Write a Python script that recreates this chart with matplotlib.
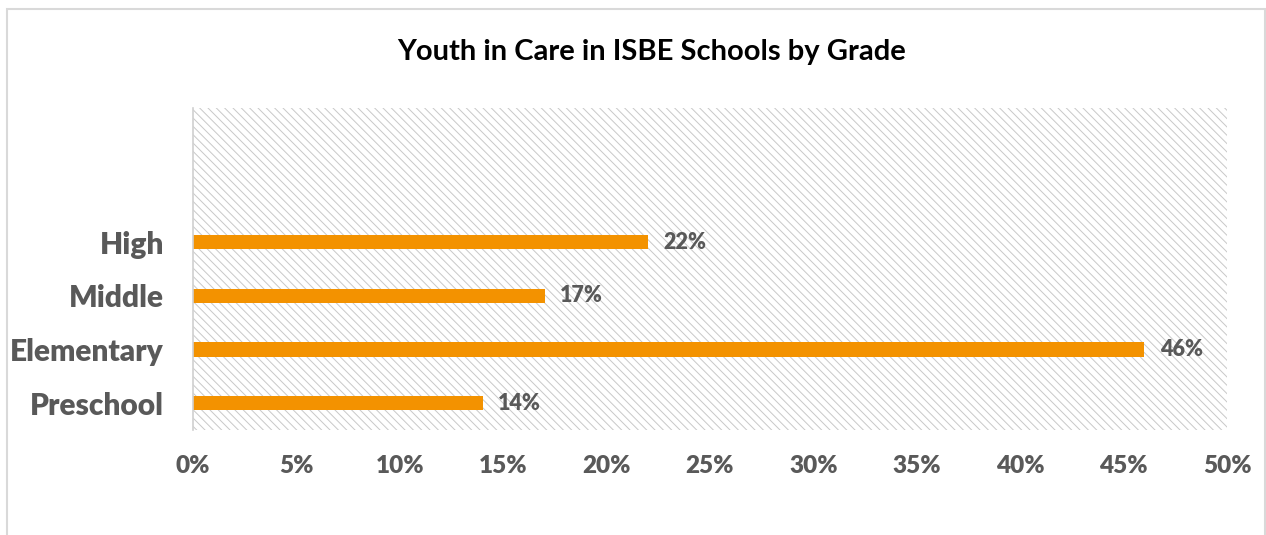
import matplotlib.pyplot as plt
from matplotlib.patches import Rectangle
from matplotlib.ticker import PercentFormatter

categories = ["Preschool", "Elementary", "Middle", "High"]
values = [0.14, 0.46, 0.17, 0.22]
value_labels = ["14%", "46%", "17%", "22%"]

BAR_COLOR = "#F39200"
TEXT_COLOR = "#595959"
FONT = "Lato"

plt.rcParams["hatch.linewidth"] = 0.7
plt.rcParams["hatch.color"] = "#c8c8c8"

fig = plt.figure(figsize=(12.66, 5.35), dpi=100)
ax = fig.add_axes([193 / 1266, 1 - 430 / 535, (1227 - 193) / 1266, (430 - 108) / 535])

# hatched plot area background
ax.add_patch(Rectangle((0, 0), 1, 1, transform=ax.transAxes, facecolor="white",
                       edgecolor="#c8c8c8", hatch="\\\\\\\\", linewidth=0, zorder=0))

pos = list(range(len(categories)))
ax.barh(pos, values, height=0.27, color=BAR_COLOR, zorder=2)
for p, v, lab in zip(pos, values, value_labels):
    ax.text(v + 0.0075, p, lab, va="center", ha="left", fontsize=15.5,
            fontweight="heavy", color=TEXT_COLOR, family=FONT)

ax.set_xlim(0, 0.5)
ax.set_ylim(-0.5, 5.5)
ax.set_xticks([i * 0.05 for i in range(11)])
ax.xaxis.set_major_formatter(PercentFormatter(1.0, decimals=0))
ax.set_yticks(pos)
ax.set_yticklabels(categories)
ax.tick_params(axis="x", length=0, pad=18, labelsize=17.5, labelcolor=TEXT_COLOR)
ax.tick_params(axis="y", length=0, pad=21, labelsize=21.5, labelcolor=TEXT_COLOR)
for lab in ax.get_xticklabels() + ax.get_yticklabels():
    lab.set_fontweight("heavy")
    lab.set_family(FONT)

for s in ["top", "right", "bottom"]:
    ax.spines[s].set_visible(False)
ax.spines["left"].set_color("#d0d0d0")
ax.spines["left"].set_linewidth(1.2)

fig.text(652 / 1266, 1 - 52 / 535, "Youth in Care in ISBE Schools by Grade",
         ha="center", va="center", fontsize=21, fontweight="bold", color="black", family=FONT)

# outer chart border
fig.patches.append(Rectangle((7 / 1266, -0.05), (1265 - 7) / 1266, 1.05 - 9 / 535,
                             transform=fig.transFigure, fill=False,
                             edgecolor="#d9d9d9", linewidth=1.5))

fig.savefig("out.png", dpi=100)
